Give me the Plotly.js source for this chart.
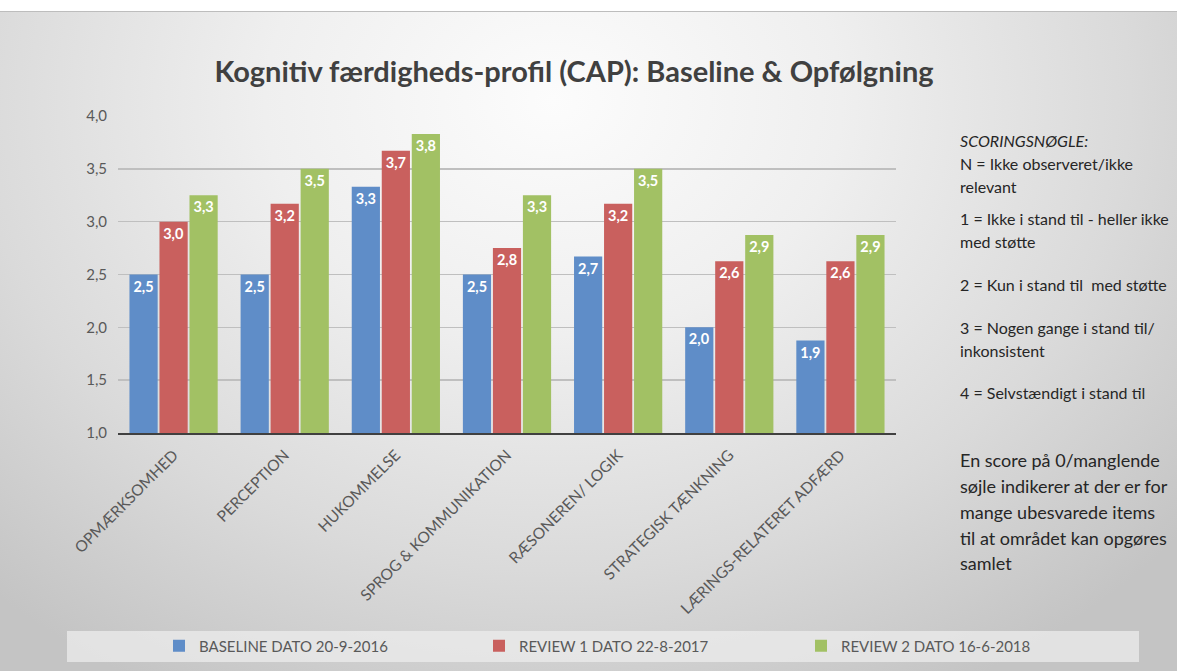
<!DOCTYPE html>
<html>
<head>
<meta charset="utf-8">
<script src="https://cdn.plot.ly/plotly-3.0.1.min.js"></script>
<style>
  html, body { margin: 0; padding: 0; background: #ffffff; }
  #chart {
    width: 1177px; height: 671px;
    background:
      linear-gradient(to bottom, #ffffff 0px, #ffffff 11px, #bdbdbd 11px, #bdbdbd 12px, rgba(255,255,255,0) 12px),
      radial-gradient(ellipse 70% 100% at 47% 15%, #fcfcfc 0%, #efefef 35%, #dadada 70%, #c4c4c4 100%);
  }
</style>
</head>
<body>
<div id="chart"></div>
<script>
const categories = ["OPMÆRKSOMHED", "PERCEPTION", "HUKOMMELSE", "SPROG & KOMMUNIKATION",
                    "RÆSONEREN/ LOGIK", "STRATEGISK TÆNKNING", "LÆRINGS-RELATERET ADFÆRD"];
const baseline = [2.5, 2.5, 3.33, 2.5, 2.67, 2.0, 1.875];
const review1  = [3.0, 3.17, 3.67, 2.75, 3.17, 2.625, 2.625];
const review2  = [3.25, 3.5, 3.83, 3.25, 3.5, 2.875, 2.875];
const seriesNames = ["BASELINE DATO 20-9-2016", "REVIEW 1 DATO 22-8-2017", "REVIEW 2 DATO 16-6-2018"];
const seriesColors = ["#5f8dc8", "#c9605e", "#a2c164"];
const yTicks = [1.0, 1.5, 2.0, 2.5, 3.0, 3.5, 4.0];
const titleText = "Kognitiv færdigheds-profil (CAP): Baseline & Opfølgning";
const keyLines = [
  {t: "<i>SCORINGSNØGLE:</i>", y: 140, s: 16},
  {t: "N = Ikke observeret/ikke", y: 163, s: 16},
  {t: "relevant", y: 186, s: 16},
  {t: "1 = Ikke i stand til - heller ikke", y: 218, s: 16},
  {t: "med støtte", y: 241, s: 16},
  {t: "2 = Kun i stand til  med støtte", y: 284, s: 16},
  {t: "3 = Nogen gange i stand til/", y: 327, s: 16},
  {t: "inkonsistent", y: 350, s: 16},
  {t: "4 = Selvstændigt i stand til", y: 392, s: 16},
  {t: "En score på 0/manglende", y: 460, s: 18},
  {t: "søjle indikerer at der er for", y: 486, s: 18},
  {t: "mange ubesvarede items", y: 512, s: 18},
  {t: "til at området kan opgøres", y: 538, s: 18},
  {t: "samlet", y: 563, s: 18}
];

const FONT = "Lato, 'Open Sans', sans-serif";
const allSeries = [baseline, review1, review2];
const legendIds = ["legend", "legend2", "legend3"];
const traces = allSeries.map((vals, i) => ({
  type: "bar",
  name: seriesNames[i],
  legend: legendIds[i],
  x: categories,
  y: vals,
  marker: {color: seriesColors[i], line: {width: 0}},
  texttemplate: "%{y:.1f}",
  textposition: "inside",
  insidetextanchor: "end",
  constraintext: "none",
  textangle: 0,
  textfont: {family: FONT, size: 14.5, color: "#ffffff", weight: "bold"},
  hoverinfo: "x+y"
}));

const W = 1177, H = 671;
const annotations = keyLines.map(l => ({
  xref: "paper", yref: "paper",
  x: (958 - 118) / (896 - 118), y: (433 - l.y) / (433 - 116),
  xanchor: "left", yanchor: "middle",
  text: l.t, showarrow: false,
  font: {family: FONT, size: l.s, color: "#262626"}
}));

function legendAt(px) {
  return {
    orientation: "h",
    xref: "container", yref: "container",
    x: px / W, y: 1 - 646 / H, xanchor: "left", yanchor: "middle",
    bgcolor: "rgba(0,0,0,0)",
    itemwidth: 30,
    font: {family: FONT, size: 15, color: "#595959"}
  };
}

const layout = {
  width: W, height: H,
  paper_bgcolor: "rgba(0,0,0,0)",
  plot_bgcolor: "rgba(0,0,0,0)",
  separators: ", ",
  margin: {l: 118, r: W - 896, t: 116, b: H - 433, pad: 0},
  title: {
    text: titleText,
    xref: "container", yref: "container",
    x: 574 / W, y: 1 - 72 / H, xanchor: "center", yanchor: "middle",
    font: {family: FONT, size: 29, color: "#404040", weight: "bold"}
  },
  barmode: "group",
  bargap: 0.19,
  bargroupgap: 0.06,
  xaxis: {
    type: "category",
    tickangle: -45,
    tickfont: {family: FONT, size: 15.5, color: "#595959"},
    showline: true, linecolor: "#404040", linewidth: 2,
    ticks: "", showgrid: false, zeroline: false,
    ticklabelstandoff: 5,
    fixedrange: true
  },
  yaxis: {
    range: [1, 4],
    tickvals: yTicks,
    tickformat: ".1f",
    tickfont: {family: FONT, size: 15, color: "#595959"},
    showgrid: true, gridcolor: "#bfbfbf", gridwidth: 1.5,
    zeroline: false, showline: false, ticks: "",
    ticklabelstandoff: 10,
    fixedrange: true
  },
  showlegend: true,
  legend: legendAt(159),
  legend2: legendAt(479),
  legend3: legendAt(801),
  shapes: [{
    type: "rect", xref: "paper", yref: "paper", layer: "below",
    x0: (67 - 118) / (896 - 118), x1: (1139 - 118) / (896 - 118),
    y0: (433 - 662) / (433 - 116), y1: (433 - 631) / (433 - 116),
    fillcolor: "rgba(236,236,236,0.75)", line: {width: 0}
  }],
  annotations: annotations
};

Plotly.newPlot("chart", traces, layout, {displayModeBar: false, staticPlot: true});
</script>
</body>
</html>
